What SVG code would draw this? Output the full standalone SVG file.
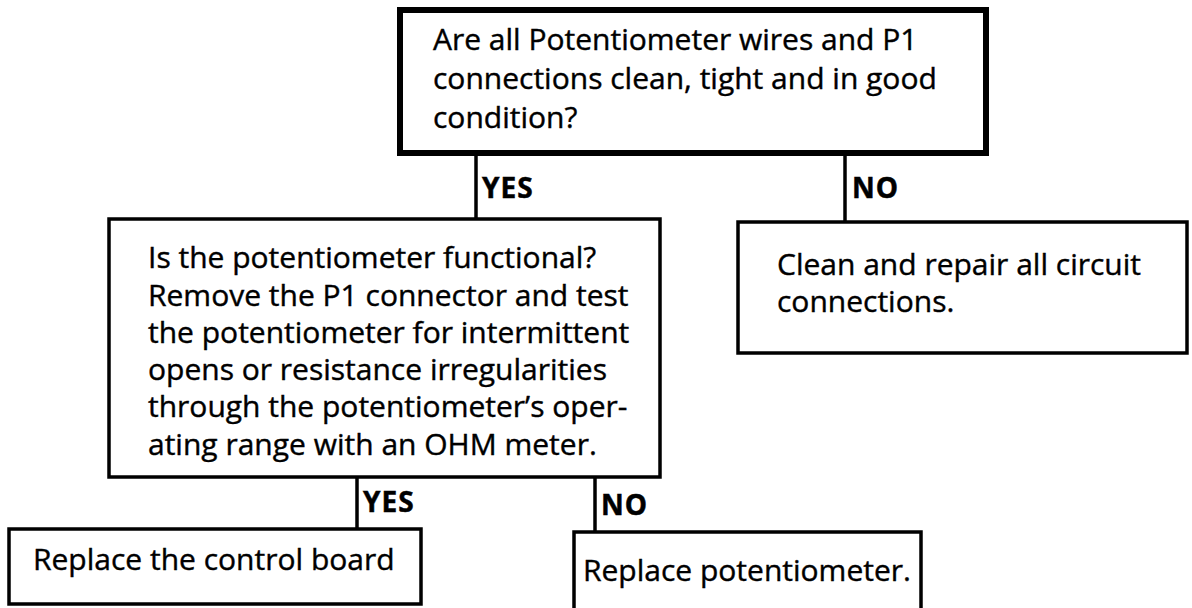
<svg xmlns="http://www.w3.org/2000/svg" width="1192" height="608" viewBox="0 0 1192 608">
<style>
.box{fill:#fff;stroke:#000;stroke-width:3.5}
.thick{stroke-width:6}
.t{font-family:"Open Sans","Noto Sans","Liberation Sans",sans-serif;font-size:30px;fill:#000;stroke:#000;stroke-width:0.4}
.lbl{font-family:"Open Sans","Noto Sans","Liberation Sans",sans-serif;font-size:28px;font-weight:bold;letter-spacing:1px;fill:#000;stroke:#000;stroke-width:0.5}
.c{stroke:#000;stroke-width:3.5;fill:none}
</style>
<rect width="1192" height="608" fill="#fff"/>
<g id="connectors">
<line class="c" x1="476" y1="153" x2="476" y2="219"/>
<line class="c" x1="845" y1="153" x2="845" y2="222"/>
<line class="c" x1="357" y1="477" x2="357" y2="528"/>
<line class="c" x1="595" y1="477" x2="595" y2="531"/>
<text class="lbl" x="482" y="198">YES</text>
<text class="lbl" x="852" y="198">NO</text>
<text class="lbl" x="363" y="512">YES</text>
<text class="lbl" x="601" y="515">NO</text>
</g>
<g id="n1">
<rect class="box thick" x="400" y="10" width="586" height="143"/>
<text class="t" x="433" y="50">Are all Potentiometer wires and P1</text>
<text class="t" x="433" y="89">connections clean, tight and in good</text>
<text class="t" x="433" y="128">condition?</text>
</g>
<g id="n2">
<rect class="box" x="109" y="219" width="551" height="258"/>
<text class="t" x="148" y="268">Is the potentiometer functional?</text>
<text class="t" x="148" y="306">Remove the P1 connector and test</text>
<text class="t" x="148" y="343">the potentiometer for intermittent</text>
<text class="t" x="148" y="380">opens or resistance irregularities</text>
<text class="t" x="148" y="417">through the potentiometer’s oper-</text>
<text class="t" x="148" y="455">ating range with an OHM meter.</text>
</g>
<g id="n3">
<rect class="box" x="738" y="222" width="449" height="131"/>
<text class="t" x="777" y="275">Clean and repair all circuit</text>
<text class="t" x="777" y="312">connections.</text>
</g>
<g id="n4">
<rect class="box" x="9" y="529" width="412" height="75"/>
<text class="t" x="33" y="570">Replace the control board</text>
</g>
<g id="n5">
<rect class="box" x="574" y="532" width="347" height="90"/>
<text class="t" x="583" y="581">Replace potentiometer.</text>
</g>
</svg>
